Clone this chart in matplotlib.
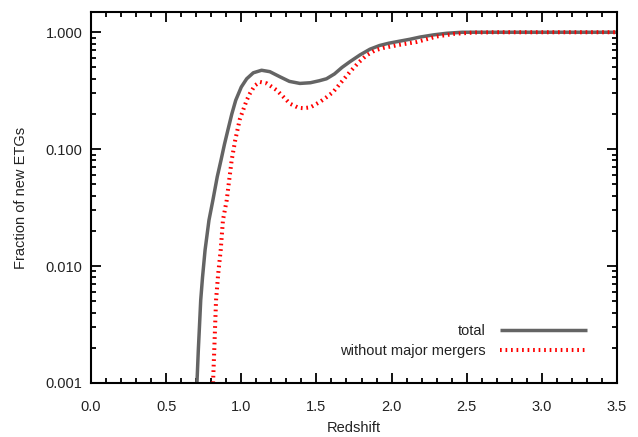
import matplotlib
matplotlib.use("Agg")
import matplotlib.pyplot as plt
from matplotlib.ticker import FixedLocator, MultipleLocator, LogLocator, NullFormatter

# Data
z_total = [0.705, 0.714, 0.722, 0.730, 0.742, 0.759, 0.785, 0.811, 0.840, 0.865, 0.888,
           0.911, 0.937, 0.963, 1.000, 1.036, 1.080, 1.135, 1.190, 1.257, 1.320,
           1.390, 1.460, 1.520, 1.567, 1.620, 1.670, 1.723, 1.790, 1.856, 1.920,
           1.980, 2.056, 2.120, 2.190, 2.280, 2.366, 2.470, 2.600, 3.000, 3.500]
f_total = [0.001, 0.0019, 0.0031, 0.0051, 0.0080, 0.0137, 0.0247, 0.0366, 0.058, 0.0805, 0.110,
           0.146, 0.200, 0.262, 0.340, 0.400, 0.450, 0.473, 0.460, 0.416, 0.380,
           0.365, 0.370, 0.385, 0.400, 0.440, 0.500, 0.560, 0.640, 0.716, 0.770,
           0.805, 0.840, 0.870, 0.910, 0.950, 0.980, 1.000, 1.000, 1.000, 1.000]

z_nomaj = [0.812, 0.820, 0.832, 0.846, 0.863, 0.878, 0.903, 0.920, 0.936, 0.960,
           0.990, 1.036, 1.058, 1.090, 1.124, 1.170, 1.235, 1.280, 1.324, 1.380,
           1.413, 1.460, 1.524, 1.570, 1.612, 1.670, 1.723, 1.780, 1.834, 1.890,
           1.945, 2.050, 2.167, 2.300, 2.420, 2.550, 2.700, 3.000, 3.500]
f_nomaj = [0.001, 0.0019, 0.0051, 0.0085, 0.0137, 0.0247, 0.0366, 0.055, 0.0805, 0.120,
           0.180, 0.262, 0.300, 0.350, 0.376, 0.365, 0.320, 0.280, 0.245, 0.226,
           0.224, 0.228, 0.254, 0.280, 0.309, 0.380, 0.458, 0.550, 0.636, 0.700,
           0.734, 0.780, 0.826, 0.920, 0.970, 0.995, 1.000, 1.000, 1.000]

y_ticks = [0.001, 0.01, 0.1, 1.0]
y_ticklabels = ["0.001", "0.010", "0.100", "1.000"]
x_ticks = [0.0, 0.5, 1.0, 1.5, 2.0, 2.5, 3.0, 3.5]
x_ticklabels = ["0.0", "0.5", "1.0", "1.5", "2.0", "2.5", "3.0", "3.5"]

plt.rcParams['font.family'] = ['Liberation Sans', 'DejaVu Sans']
txt = "#222222"
fs = 10.5

fig = plt.figure(figsize=(6.38, 4.37), dpi=100)
ax = fig.add_axes([91/638, 1-383/437, (617-91)/638, (383-12)/437])

ax.plot(z_total, f_total, color="#646464", lw=2.5, solid_capstyle="butt", label="total")
ax.plot(z_nomaj, f_nomaj, color="#ff0000", lw=2.9, linestyle=(0, (0.42, 0.95)),
        label="without major mergers")

ax.set_yscale("log")
ax.set_xlim(0, 3.5)
ax.set_ylim(0.001, 1.49)

ax.xaxis.set_major_locator(FixedLocator(x_ticks))
ax.set_xticklabels(x_ticklabels)
ax.xaxis.set_minor_locator(MultipleLocator(0.1))
ax.yaxis.set_major_locator(FixedLocator(y_ticks))
ax.set_yticklabels(y_ticklabels)
ax.yaxis.set_minor_locator(LogLocator(base=10, subs=range(2, 10)))
ax.yaxis.set_minor_formatter(NullFormatter())

ax.tick_params(which="both", direction="in", top=True, right=True, color="black", width=1.3)
ax.tick_params(which="major", length=7.5)
ax.tick_params(which="minor", length=3.5)
ax.tick_params(axis="x", which="major", pad=12, labelsize=fs, labelcolor=txt)
ax.tick_params(axis="y", which="major", pad=6, labelsize=fs, labelcolor=txt)
for s in ax.spines.values():
    s.set_linewidth(1.5)
    s.set_color("black")

ax.set_xlabel("Redshift", fontsize=fs, color=txt, labelpad=5)
ax.set_ylabel("Fraction of new ETGs", fontsize=fs, color=txt, labelpad=13)

leg = ax.legend(loc="lower right", bbox_to_anchor=(587/638, 1-358/437),
                bbox_transform=fig.transFigure, frameon=False, markerfirst=False,
                handlelength=6.0, handletextpad=0.95, labelspacing=0.4, fontsize=fs,
                borderpad=0.0, borderaxespad=0.0)
for t in leg.get_texts():
    t.set_color(txt)

fig.savefig("out.png", dpi=100)
